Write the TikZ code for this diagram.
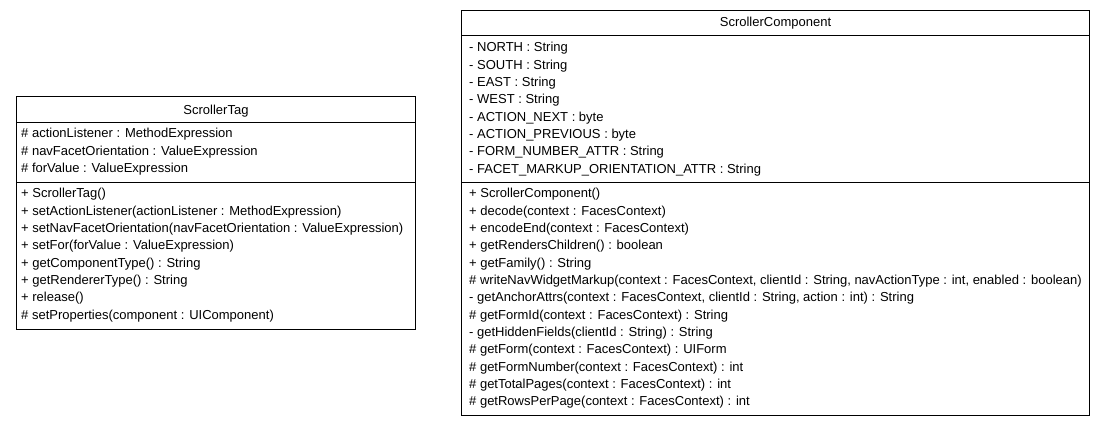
\documentclass[tikz,border=0pt]{standalone}
\usepackage{fontspec}
\setmainfont{Liberation Sans}
\begin{document}
\begin{tikzpicture}[x=1pt,y=-1pt,
  box/.style={draw=black,line width=1pt},
  txt/.style={anchor=base west,inner sep=0pt,font=\fontsize{13}{15}\selectfont},
  ttl/.style={anchor=base,inner sep=0pt,font=\fontsize{13}{15}\selectfont}]
\useasboundingbox[fill=white] (0,0) rectangle (1107,427);
% ScrollerTag
\draw[box] (16,96.5) rectangle (415.5,329);
\draw[box] (16,123) -- (415.5,123);
\draw[box] (16,183) -- (415.5,183);
\node[ttl] (tagtitle) at (216,114.5) {ScrollerTag};
\foreach \t [count=\i] in {{\# actionListener : MethodExpression},{\# navFacetOrientation : ValueExpression},{\# forValue : ValueExpression}}
  \node[txt] (ta\i) at ({21},{138+17.3*(\i-1)}) {\t};
\foreach \t [count=\i] in {{+ ScrollerTag()},{+ setActionListener(actionListener : MethodExpression)},{+ setNavFacetOrientation(navFacetOrientation : ValueExpression)},{+ setFor(forValue : ValueExpression)},{+ getComponentType() : String},{+ getRendererType() : String},{+ release()},{\# setProperties(component : UIComponent)}}
  \node[txt] (tm\i) at ({21},{198+17.3*(\i-1)}) {\t};
% ScrollerComponent
\draw[box] (461,10.5) rectangle (1089.5,415);
\draw[box] (461,36) -- (1089.5,36);
\draw[box] (461,183) -- (1089.5,183);
\node[ttl] (comptitle) at (775.5,26.5) {ScrollerComponent};
\foreach \t [count=\i] in {{- NORTH : String},{- SOUTH : String},{- EAST : String},{- WEST : String},{- ACTION\_NEXT : byte},{- ACTION\_PREVIOUS : byte},{- FORM\_NUMBER\_ATTR : String},{- FACET\_MARKUP\_ORIENTATION\_ATTR : String}}
  \node[txt] (ca\i) at ({469},{52+17.3*(\i-1)}) {\t};
\foreach \t [count=\i] in {{+ ScrollerComponent()},{+ decode(context : FacesContext)},{+ encodeEnd(context : FacesContext)},{+ getRendersChildren() : boolean},{+ getFamily() : String},{\# writeNavWidgetMarkup(context : FacesContext, clientId : String, navActionType : int, enabled : boolean)},{- getAnchorAttrs(context : FacesContext, clientId : String, action : int) : String},{\# getFormId(context : FacesContext) : String},{- getHiddenFields(clientId : String) : String},{\# getForm(context : FacesContext) : UIForm},{\# getFormNumber(context : FacesContext) : int},{\# getTotalPages(context : FacesContext) : int},{\# getRowsPerPage(context : FacesContext) : int}}
  \node[txt] (cm\i) at ({469},{198+17.3*(\i-1)}) {\t};
\end{tikzpicture}
\end{document}
